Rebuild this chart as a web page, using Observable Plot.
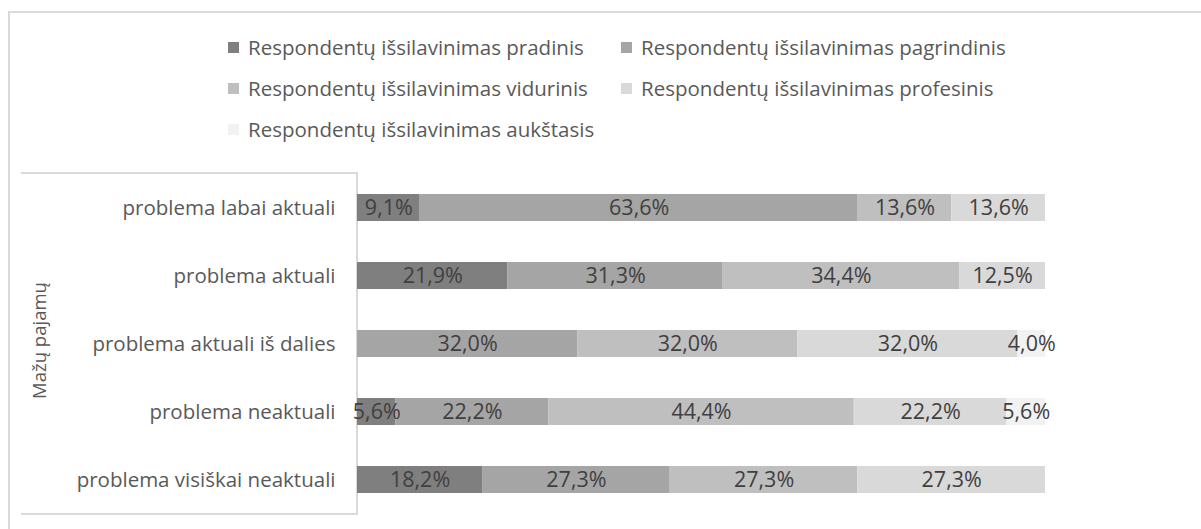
<!DOCTYPE html>
<html>
<head>
<meta charset="utf-8">
<script src="https://cdn.jsdelivr.net/npm/d3@7"></script>
<script src="https://cdn.jsdelivr.net/npm/@observablehq/plot@0.6"></script>
<style>
  body { margin: 0; background: #fff; font-family: "Open Sans", sans-serif; }
  #wrap { position: relative; width: 1201px; height: 529px; overflow: hidden; background: #fff; }
  #frame { position: absolute; left: 8px; top: 11px; width: 1300px; height: 600px;
           border-left: 2px solid #d9d9d9; border-top: 2px solid #d9d9d9; }
  #box { position: absolute; left: 21px; top: 172px; width: 335px; height: 339px;
         border-top: 2px solid #d9d9d9; border-right: 2px solid #d9d9d9; border-bottom: 2px solid #d9d9d9; }
  #chart { position: absolute; left: 0; top: 0; }
  #legend { position: absolute; left: 0; top: 0; width: 1201px; height: 160px; }
  .item { position: absolute; display: flex; align-items: center; height: 24px;
          font-size: 20.5px; color: #595959; white-space: nowrap; }
  .sw { width: 11px; height: 11px; margin-right: 9px; }
</style>
</head>
<body>
<div id="wrap">
  <div id="frame"></div>
  <div id="box"></div>
  <div id="chart"></div>
  <div id="legend"></div>
</div>
<script>
const categories = [
  "problema labai aktuali",
  "problema aktuali",
  "problema aktuali iš dalies",
  "problema neaktuali",
  "problema visiškai neaktuali"
];
const seriesNames = [
  "Respondentų išsilavinimas pradinis",
  "Respondentų išsilavinimas pagrindinis",
  "Respondentų išsilavinimas vidurinis",
  "Respondentų išsilavinimas profesinis",
  "Respondentų išsilavinimas aukštasis"
];
const seriesColors = ["#7f7f7f", "#a5a5a5", "#bfbfbf", "#d9d9d9", "#f2f2f2"];
const pradinis    = [9.1, 21.9, 0,    5.6,  18.2];
const pagrindinis = [63.6, 31.3, 32.0, 22.2, 27.3];
const vidurinis   = [13.6, 34.4, 32.0, 44.4, 27.3];
const profesinis  = [13.6, 12.5, 32.0, 22.2, 27.3];
const aukstasis   = [0,    0,    4.0,  5.6,  0];
const yTitle = "Mažų pajamų";

const seriesValues = [pradinis, pagrindinis, vidurinis, profesinis, aukstasis];
const data = [];
categories.forEach((c, i) => {
  seriesNames.forEach((s, j) => {
    const v = seriesValues[j][i];
    if (v > 0) data.push({cat: c, series: s, value: v});
  });
});
const fmt = v => v.toFixed(1).replace(".", ",") + "%";

const plot = Plot.plot({
  width: 1201,
  height: 529,
  marginLeft: 357,
  marginRight: 156,
  marginTop: 174,
  marginBottom: 15,
  style: {background: "transparent", fontFamily: "'Open Sans', sans-serif"},
  x: {axis: null, domain: [0, 1]},
  y: {domain: categories, paddingInner: 0.6, paddingOuter: 0.3, label: null},
  color: {domain: seriesNames, range: seriesColors},
  marks: [
    Plot.barX(data, Plot.stackX({
      x: "value", y: "cat", z: "series", fill: "series",
      offset: "normalize", order: seriesNames
    })),
    Plot.text(data, Plot.stackX({
      x: "value", y: "cat", z: "series",
      offset: "normalize", order: seriesNames,
      text: d => fmt(d.value), fill: "#404040", fontSize: 21.5
    })),
    Plot.axisY({
      tickSize: 0, tickPadding: 22, fontSize: 20.5, color: "#595959", label: null
    }),
    Plot.text([yTitle], {
      frameAnchor: "left", textAnchor: "middle", rotate: -90, dx: -317, dy: -4,
      fontSize: 18.5, fill: "#595959"
    })
  ]
});
document.getElementById("chart").appendChild(plot);

// legend
const legend = document.getElementById("legend");
const legendPos = [[228, 35], [621, 35], [228, 76], [621, 76], [228, 117]];
seriesNames.forEach((s, j) => {
  const it = document.createElement("div");
  it.className = "item";
  it.style.left = legendPos[j][0] + "px";
  it.style.top = legendPos[j][1] + "px";
  const sw = document.createElement("div");
  sw.className = "sw";
  sw.style.background = seriesColors[j];
  const tx = document.createElement("span");
  tx.textContent = s;
  it.appendChild(sw); it.appendChild(tx);
  legend.appendChild(it);
});
</script>
</body>
</html>
